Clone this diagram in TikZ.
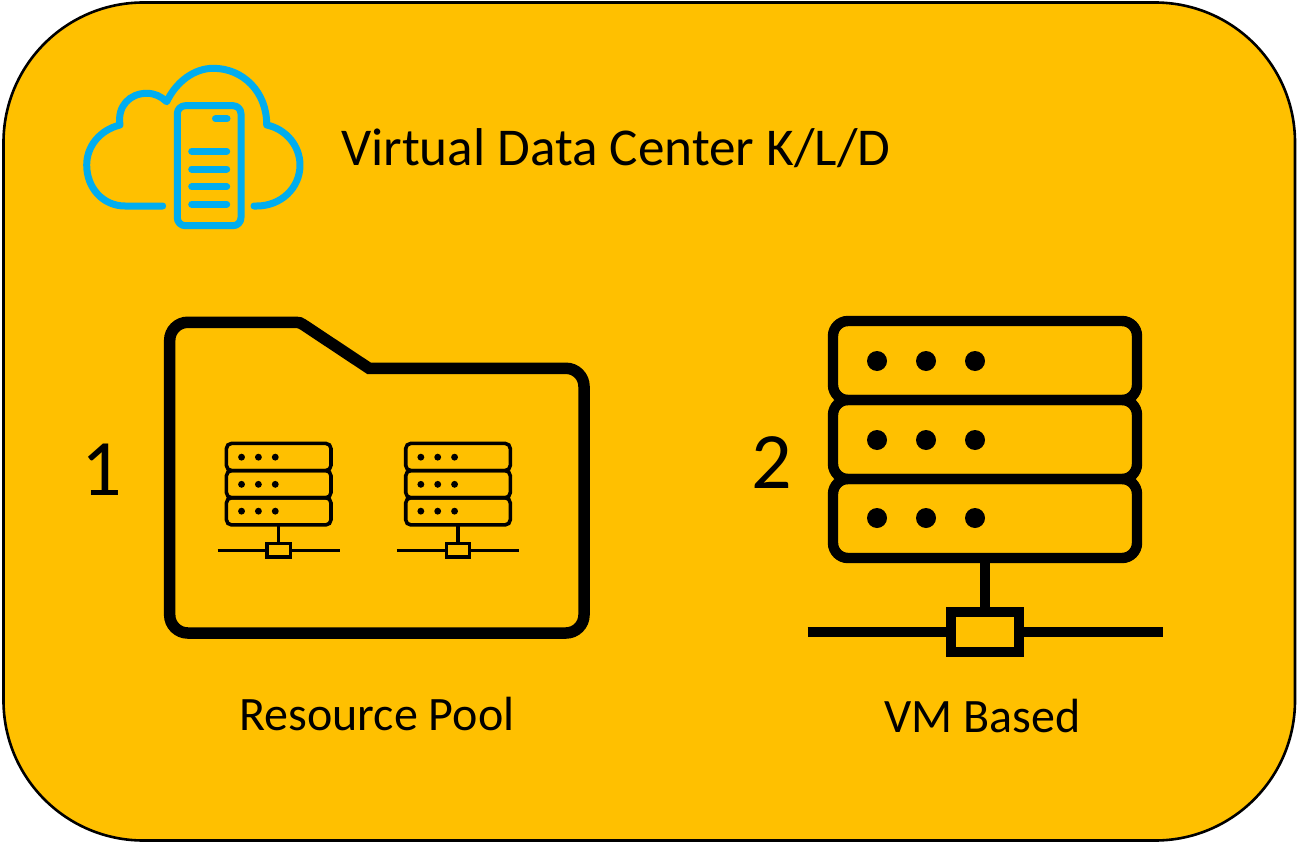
\documentclass[tikz,border=0pt]{standalone}
\usepackage{fontspec}
\setmainfont{Carlito}
\definecolor{panel}{HTML}{FFC000}
\definecolor{cloudblue}{HTML}{00ADEF}
\tikzset{
  panelbox/.style={draw=black,fill=panel,line width=2.6pt,rounded corners=140pt},
  cloudline/.style={draw=cloudblue,line width=7pt,line join=round,line cap=round},
  folderline/.style={draw=black,line width=11.5pt,line join=miter},
  lbl/.style={inner sep=0pt,anchor=base,text=black},
}
% origin x, origin y, scale
\newcommand{\rackicon}[3]{%
  \begin{scope}[shift={(#1,#2)},scale=#3]
    \foreach \ya/\yb in {0/79,79/158,158/237}{
      \draw[line width=#3*10.4pt,rounded corners=#3*15pt] (-152,\ya) rectangle (152,\yb);
    }
    \foreach \yd in {40,119,197}{
      \foreach \xd in {-108,-59,-10}{
        \fill (\xd,\yd) circle[radius=10];
      }
    }
    \draw[line width=#3*10.4pt] (0,237) -- (0,291);
    \draw[line width=#3*10.4pt] (-177.5,311) -- (-34,311);
    \draw[line width=#3*10.4pt] (34,311) -- (177.5,311);
    \draw[line width=#3*10.4pt] (-34,291) rectangle (34,331);
  \end{scope}}
\begin{document}
\begin{tikzpicture}[x=1pt,y=-1pt]
\useasboundingbox (0,0) rectangle (1299,843);
\draw[panelbox] (3.5,2.5) rectangle (1295,840.5);
% cloud
\draw[cloudline] (162.7,206) -- (125,206)
  .. controls (103,206) and (86.7,188) .. (86.7,165)
  .. controls (86.7,146) and (100,130) .. (120,125)
  .. controls (117,106) and (130,93.3) .. (146.7,93.3)
  .. controls (155,93.3) and (161,96.5) .. (166.7,101.7)
  .. controls (176,82) and (194,68.3) .. (213.3,68.3)
  .. controls (243,68.3) and (267,92) .. (266.7,125)
  .. controls (286,129) and (300,146) .. (300,165)
  .. controls (300,188) and (281,206) .. (256.7,206) -- (254,206);
\draw[cloudline,rounded corners=8pt] (177.3,105.7) rectangle (241,225.7);
\draw[cloudline] (215.5,118.7) -- (227,118.7);
\foreach \yb in {151.3,169,186.7,204.3}{
  \draw[cloudline] (191.7,\yb) -- (226.7,\yb);
}
% folder
\draw[folderline] (169.7,340.3)
  .. controls (169.7,330.4) and (177.8,322.3) .. (187.7,322.3)
  -- (296,322.3) .. controls (299,322.3) and (301,323) .. (303,324.5)
  -- (369,368.3) -- (566,368.3)
  .. controls (575.9,368.3) and (584,376.4) .. (584,386.3)
  -- (584,615) .. controls (584,624.9) and (575.9,633) .. (566,633)
  -- (187.7,633) .. controls (177.8,633) and (169.7,624.9) .. (169.7,615)
  -- cycle;
\rackicon{278.7}{443.4}{0.344}
\rackicon{458}{443.4}{0.344}
\rackicon{985}{321}{1}
% text
\node[lbl,anchor=base west,font=\fontsize{53.2}{60}\selectfont] (title) at (341,165) {Virtual Data Center K/L/D};
\node[lbl,font=\fontsize{80}{90}\selectfont] (one) at (102,495) {1};
\node[lbl,font=\fontsize{80}{90}\selectfont] (two) at (772,488) {2};
\node[lbl,font=\fontsize{48}{56}\selectfont] (pool) at (377,730) {Resource Pool};
\node[lbl,font=\fontsize{48}{56}\selectfont] (vm) at (982.5,732) {VM Based};
\end{tikzpicture}
\end{document}
